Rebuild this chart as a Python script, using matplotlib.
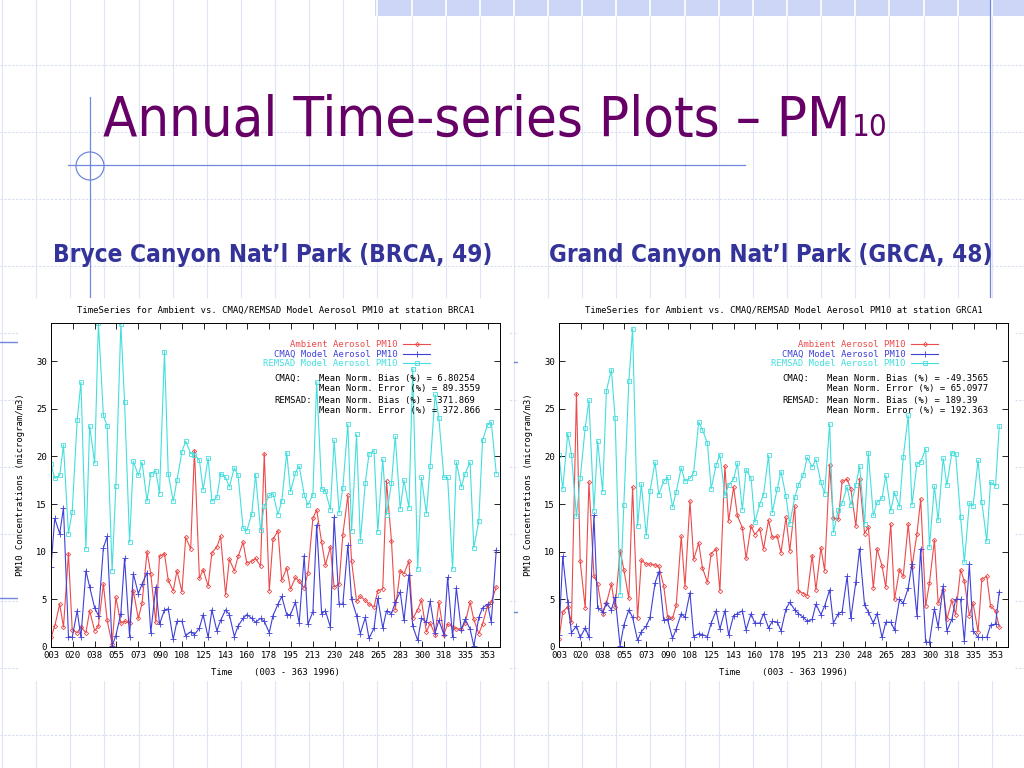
import matplotlib
matplotlib.use('Agg')
import numpy as np
import matplotlib.pyplot as plt
from matplotlib import font_manager
from matplotlib.font_manager import FontProperties
from matplotlib.patches import Rectangle, Circle

# sampling days (Wed/Sat schedule, 1996)
days = [3, 6, 10, 13, 17, 20, 24, 27, 31, 34, 38, 41, 45, 48, 52, 55, 59, 62,
        66, 69, 73, 76, 80, 83, 87, 90, 94, 97, 101, 104, 108, 111, 115, 118,
        122, 125, 129, 132, 136, 139, 143, 146, 150, 153, 157, 160, 164, 167,
        171, 174, 178, 181, 185, 188, 192, 195, 199, 202, 206, 209, 213, 216,
        220, 223, 227, 230, 234, 237, 241, 244, 248, 251, 255, 258, 262, 265,
        269, 272, 276, 279, 283, 286, 290, 293, 297, 300, 304, 307, 311, 314,
        318, 321, 325, 328, 332, 335, 339, 342, 346, 349, 353, 356, 360, 363]

# --- Bryce Canyon (BRCA1) ---
brca_ambient = [1.0, 2.2, 4.5, 2.1, 9.8, 1.8, 1.5, 2.1, 1.5, 3.8,
                1.7, 2.2, 6.6, 2.8, 0.3, 5.2, 2.5, 2.7, 2.5, 5.9,
                3.0, 4.6, 10.0, 7.7, 2.6, 9.5, 9.8, 7.0, 5.9, 8.0,
                5.8, 11.5, 10.3, 20.6, 7.2, 8.1, 6.4, 9.9, 10.5, 11.6,
                5.5, 9.2, 8.0, 9.5, 11.0, 8.8, 9.0, 9.3, 8.5, 20.3,
                5.9, 11.3, 12.2, 7.0, 8.3, 6.1, 7.3, 6.9, 6.2, 7.8,
                13.5, 14.4, 11.0, 8.6, 10.5, 6.3, 6.6, 11.8, 15.9, 9.0,
                4.8, 5.3, 4.9, 4.5, 4.2, 5.9, 6.1, 17.4, 11.1, 3.9,
                8.0, 7.7, 9.0, 3.0, 3.9, 4.9, 1.6, 2.5, 1.3, 4.7,
                1.3, 2.4, 2.1, 1.9, 1.9, 2.5, 4.7, 2.9, 1.4, 2.4,
                4.3, 4.7, 6.3]
brca_cmaq = [8.4, 13.5, 11.9, 14.6, 1.1, 1.0, 3.8, 1.0, 8.0, 6.3,
             4.1, 3.3, 10.4, 11.6, 0.1, 1.2, 3.5, 9.3, 1.1, 7.7,
             5.6, 6.6, 7.8, 1.5, 6.3, 2.4, 3.9, 4.0, 0.8, 2.7,
             2.7, 1.2, 1.6, 1.3, 2.0, 3.4, 1.0, 3.9, 1.7, 2.8,
             3.9, 3.4, 1.1, 2.2, 3.0, 3.4, 3.0, 2.6, 3.0, 2.7,
             1.5, 3.3, 4.5, 5.3, 3.4, 3.4, 4.7, 2.5, 9.6, 2.4,
             3.7, 12.8, 3.5, 3.8, 2.1, 13.6, 4.5, 4.5, 10.7, 5.0,
             3.3, 1.4, 3.1, 0.9, 2.0, 5.1, 2.0, 3.8, 3.5, 4.7,
             5.8, 2.8, 7.6, 2.2, 0.7, 3.0, 2.6, 4.8, 1.5, 2.8,
             1.3, 7.3, 1.0, 6.2, 1.8, 2.9, 1.9, 0.1, 3.1, 4.1,
             4.5, 2.6, 10.2]
brca_remsad = [19.2, 17.7, 18.0, 21.2, 11.9, 14.2, 23.8, 27.8, 10.3, 23.2,
               19.3, 34.0, 24.3, 23.2, 8.0, 16.9, 33.9, 25.7, 11.0, 19.5,
               18.0, 19.4, 15.3, 18.2, 18.5, 16.1, 31.0, 18.2, 15.3, 17.5,
               20.5, 21.6, 20.3, 20.2, 19.6, 16.5, 19.8, 15.3, 15.7, 18.2,
               17.8, 16.8, 18.8, 18.0, 12.5, 12.2, 14.0, 18.1, 12.3, 14.8,
               15.9, 16.1, 13.9, 15.3, 20.4, 16.3, 18.3, 19.0, 16.0, 14.9,
               16.0, 27.8, 16.6, 16.4, 14.4, 21.7, 14.1, 16.7, 23.4, 12.2,
               22.3, 11.1, 17.2, 20.3, 20.6, 12.1, 19.7, 13.9, 17.2, 22.1,
               14.5, 17.5, 14.6, 29.2, 8.2, 17.8, 14.0, 19.0, 26.5, 24.0,
               17.8, 17.8, 8.2, 19.4, 16.8, 18.2, 19.4, 10.4, 13.2, 21.7,
               23.3, 23.6, 18.2]
brca_stats = ['6.80254', '89.3559', '371.869', '372.866']

# --- Grand Canyon (GRCA1) ---
grca_ambient = [0.8, 3.7, 4.2, 2.6, 26.6, 9.0, 4.1, 17.3, 7.5, 6.6,
                3.5, 4.6, 6.6, 4.2, 10.1, 8.1, 5.1, 16.8, 3.0, 9.1,
                8.7, 8.7, 8.6, 8.5, 6.4, 3.2, 3.0, 4.4, 11.6, 6.3,
                15.3, 9.2, 10.9, 8.3, 6.8, 9.8, 10.3, 5.9, 19.0, 13.2,
                16.8, 13.8, 12.5, 9.3, 12.7, 11.8, 12.4, 10.3, 13.3, 11.5,
                11.6, 9.9, 13.6, 10.1, 14.8, 5.9, 5.6, 5.4, 9.6, 6.0,
                10.4, 8.0, 19.1, 13.5, 13.4, 17.4, 17.6, 16.6, 12.7, 17.6,
                11.9, 12.6, 6.2, 10.3, 8.5, 6.3, 12.9, 5.0, 8.1, 7.4,
                12.9, 8.4, 11.9, 15.5, 4.3, 6.7, 11.2, 4.6, 6.0, 2.9,
                4.9, 3.4, 8.1, 6.9, 3.3, 4.6, 1.6, 7.1, 7.4, 4.3,
                3.8, 2.1]
grca_cmaq = [1.3, 9.5, 4.7, 1.5, 2.2, 1.0, 2.0, 1.0, 13.8, 4.1,
             3.7, 4.6, 3.9, 5.2, 0.1, 2.3, 3.9, 3.1, 0.7, 1.6,
             2.2, 3.1, 6.7, 7.9, 2.8, 2.9, 0.9, 1.9, 3.5, 3.1,
             5.7, 1.1, 1.4, 1.3, 1.1, 2.5, 3.8, 1.9, 3.8, 1.3,
             3.3, 3.5, 3.8, 1.8, 3.5, 2.5, 2.5, 3.5, 2.0, 2.7,
             2.6, 1.7, 4.0, 4.7, 3.9, 3.5, 3.1, 2.7, 2.9, 4.5,
             3.4, 4.3, 6.0, 2.5, 3.5, 3.7, 7.4, 3.0, 6.8, 10.3,
             4.4, 3.7, 2.5, 3.5, 1.0, 2.6, 2.6, 1.8, 5.0, 4.6,
             6.2, 8.7, 3.3, 10.3, 0.5, 0.5, 4.0, 2.1, 6.4, 1.7,
             2.9, 5.0, 5.0, 0.6, 8.7, 1.7, 1.0, 1.0, 1.0, 2.3,
             2.4, 5.8]
grca_remsad = [20.1, 16.6, 22.4, 20.2, 13.7, 17.7, 23.0, 25.9, 14.3, 21.6,
               16.3, 26.9, 29.1, 24.0, 5.5, 14.9, 27.9, 33.4, 12.7, 17.1,
               11.7, 16.4, 19.4, 16.0, 17.4, 17.8, 14.7, 16.3, 18.8, 17.4,
               17.7, 18.3, 23.6, 22.8, 21.4, 16.6, 19.1, 20.2, 15.9, 17.0,
               17.6, 19.3, 14.4, 18.6, 17.7, 13.1, 15.0, 16.0, 20.1, 14.1,
               16.6, 18.4, 15.8, 12.9, 15.7, 17.0, 18.1, 19.9, 18.9, 19.7,
               17.3, 16.1, 23.4, 12.0, 14.4, 15.1, 16.8, 14.9, 17.0, 19.0,
               12.9, 20.4, 13.8, 15.2, 15.6, 18.0, 14.3, 16.2, 14.7, 19.9,
               24.3, 14.9, 19.2, 19.4, 20.8, 10.5, 16.9, 13.3, 19.8, 17.0,
               20.4, 20.3, 13.6, 8.9, 15.1, 14.8, 19.6, 15.2, 11.1, 17.3,
               16.9, 23.2]
grca_stats = ['-49.3565', '65.0977', '189.39', '192.363']

x_ticks = [3, 20.5, 38, 55.5, 73, 90.5, 108, 125.5, 143, 160.5, 178,
           195.5, 213, 230.5, 248, 265.5, 283, 300.5, 318, 335.5, 353]
y_ticks = [0, 5, 10, 15, 20, 25, 30]

MONO = 'DejaVu Sans Mono'
FS = 6.4
RED, BLUE, CYAN = '#ec4b4b', '#4040d8', '#45dede'
DECO = '#7088dc'


def pick_font(weight):
    # prefer a condensed face (closer to the slide's narrow typeface)
    for f in font_manager.fontManager.ttflist:
        if f.name == 'Liberation Sans Narrow' and f.style == 'normal' and \
                (f.weight >= 600) == (weight == 'bold'):
            return FontProperties(fname=f.fname)
    for f in font_manager.fontManager.ttflist:
        if f.name == 'DejaVu Sans' and f.stretch == 'condensed' and \
                f.style == 'normal' and (f.weight >= 600) == (weight == 'bold'):
            return FontProperties(fname=f.fname)
    return FontProperties(family='Liberation Sans', weight=weight)


title_fp = pick_font('normal')
sub_fp = pick_font('bold')

plt.rcParams['font.family'] = MONO

fig = plt.figure(figsize=(10.24, 7.68), dpi=100)
fig.patch.set_facecolor('white')

# slide background in pixel coordinates
bg = fig.add_axes([0, 0, 1, 1])
bg.set_xlim(0, 1024)
bg.set_ylim(768, 0)
bg.axis('off')

for gx in np.arange(2, 1024, 34.13):
    bg.plot([gx, gx], [0, 768], color='#dfe4f6', lw=0.8, zorder=1)
for gy in np.arange(65, 768, 67):
    bg.plot([0, 1024], [gy, gy], color='#d6dcf3', lw=0.8, ls=(0, (2, 1.5)), zorder=1)

bg.add_patch(Rectangle((375, 0), 649, 16, fc='#cdd6f6', ec='none', zorder=1.5))
for gx in np.arange(2, 1024, 34.13):
    if gx > 370:
        bg.plot([gx, gx], [0, 16], color='white', lw=1.2, zorder=1.6)

bg.plot([68, 745], [165, 165], color=DECO, lw=0.9, zorder=2)
bg.plot([90, 90], [97, 600], color=DECO, lw=0.9, zorder=2)
bg.plot([990, 990], [0, 600], color=DECO, lw=0.9, zorder=2)
bg.add_patch(Circle((90, 166), 14, fc='none', ec=DECO, lw=0.9, zorder=2))
for (x0, x1, yy) in [(0, 17, 342), (0, 17, 598), (514, 526, 362), (514, 526, 612)]:
    bg.plot([x0, x1], [yy, yy], color=DECO, lw=1.0, zorder=2)

# white plot images
bg.add_patch(Rectangle((18, 298), 492, 383, fc='white', ec='none', zorder=3))
bg.add_patch(Rectangle((518, 298), 497, 383, fc='white', ec='none', zorder=3))

renderer = fig.canvas.get_renderer()


def fit_text(x, y, s, width_px, fp, **kw):
    t = fig.text(x / 1024, 1 - y / 768, s, fontproperties=fp.copy(), **kw)
    t.set_fontsize(40)
    w = t.get_window_extent(renderer).width
    t.set_fontsize(40 * width_px / w)
    return t


# slide title
title = fit_text(103, 136, 'Annual Time-series Plots \u2013 PM', 748, title_fp,
                 color='#660066', va='baseline', ha='left')
bb = title.get_window_extent(renderer)
sub_fp10 = title_fp.copy()
sub_fp10.set_size(title.get_fontsize() * 0.56)
fig.text((bb.x1 + 2) / 1024, 1 - 136 / 768, '10', fontproperties=sub_fp10,
         color='#660066', va='baseline', ha='left')

fit_text(53, 262, 'Bryce Canyon Nat\u2019l Park (BRCA, 49)', 437, sub_fp,
         color='#333399', va='baseline')
fit_text(549, 262, 'Grand Canyon Nat\u2019l Park (GRCA, 48)', 441, sub_fp,
         color='#333399', va='baseline')


def draw_panel(left_px, amb, cmaq, rem, station, stats):
    n = len(amb)
    x = days[:n]
    ax = fig.add_axes([left_px / 1024, 121 / 768, 449 / 1024, 324 / 768])
    ax.set_zorder(5)
    ax.set_facecolor('white')

    l1, = ax.plot(x, amb, color=RED, lw=0.8, marker='D', ms=2.2,
                  mfc='none', mew=0.6)
    l2, = ax.plot(x, cmaq, color=BLUE, lw=0.8, marker='+', ms=4, mew=0.6)
    l3, = ax.plot(x, rem, color=CYAN, lw=0.8, marker='s', ms=3,
                  mfc='none', mew=0.6)

    ax.set_xlim(3, 363)
    ax.set_ylim(0, 34)
    ax.set_xticks(x_ticks)
    ax.set_xticklabels(['%03d' % int(t) for t in x_ticks])
    ax.set_yticks(y_ticks)
    ax.tick_params(direction='in', top=True, right=True, length=4,
                   width=0.6, labelsize=FS, pad=3)
    for sp in ax.spines.values():
        sp.set_linewidth(0.7)

    ax.set_ylabel('PM10 Concentrations (microgram/m3)', fontsize=FS)
    ax.yaxis.set_label_coords(-0.058, 0.5)
    ax.set_xlabel('Time    (003 - 363 1996)', fontsize=FS)
    ax.xaxis.set_label_coords(0.5, -0.066)
    ax.text(0.5, 1.04, 'TimeSeries for Ambient vs. CMAQ/REMSAD Model Aerosol '
            'PM10 at station %s' % station, transform=ax.transAxes,
            ha='center', va='center', fontsize=FS)

    ax.legend([l1, l2, l3], ['Ambient Aerosol PM10', 'CMAQ Model Aerosol PM10',
                             'REMSAD Model Aerosol PM10'],
              loc='upper right', bbox_to_anchor=(0.845, 0.947), frameon=False,
              markerfirst=False, prop={'family': MONO, 'size': FS},
              handlelength=3.1, handletextpad=0.6, labelspacing=0.05,
              borderpad=0, borderaxespad=0, labelcolor='linecolor')

    rows = [(0.830, 'CMAQ:', 'Mean Norm. Bias (%%) = %s' % stats[0]),
            (0.799, '', 'Mean Norm. Error (%%) = %s' % stats[1]),
            (0.760, 'REMSAD:', 'Mean Norm. Bias (%%) = %s' % stats[2]),
            (0.729, '', 'Mean Norm. Error (%%) = %s' % stats[3])]
    for yy, head, body in rows:
        if head:
            ax.text(0.497, yy, head, transform=ax.transAxes, fontsize=FS,
                    va='center', ha='left')
        ax.text(0.597, yy, body, transform=ax.transAxes, fontsize=FS,
                va='center', ha='left')
    return ax


draw_panel(51, brca_ambient, brca_cmaq, brca_remsad, 'BRCA1', brca_stats)
draw_panel(559, grca_ambient, grca_cmaq, grca_remsad, 'GRCA1', grca_stats)

fig.savefig('out.png', dpi=100)
plt.close(fig)
